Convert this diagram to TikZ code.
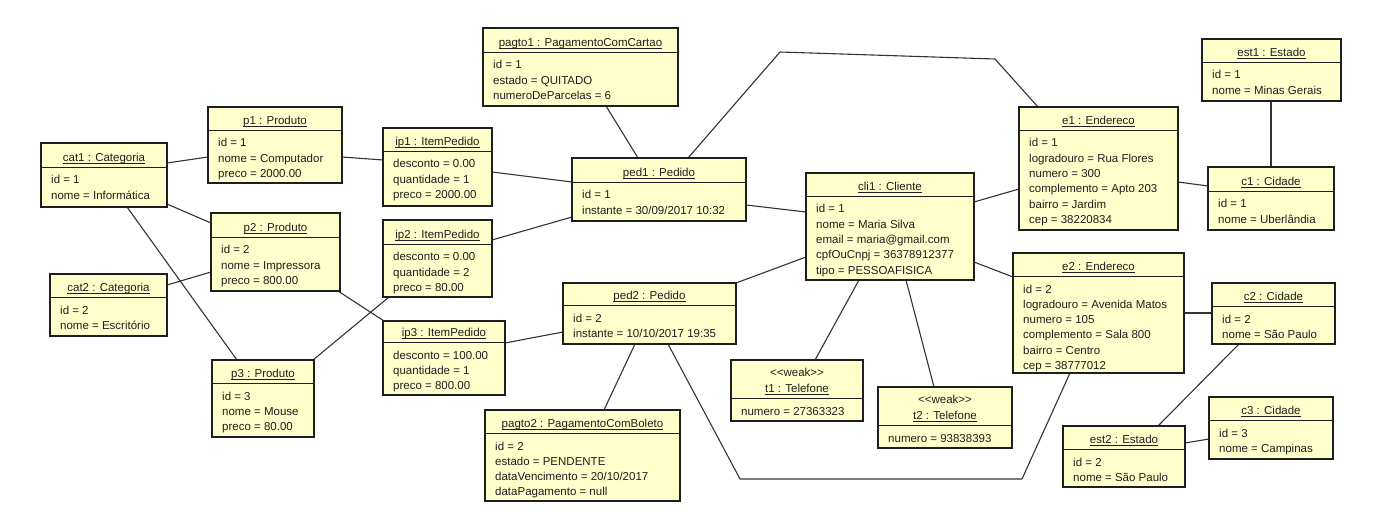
\documentclass[tikz,border=0pt]{standalone}
\usepackage{fontspec}
\setmainfont{Liberation Sans}
\usetikzlibrary{calc}
\pgfdeclarelayer{bg}
\pgfsetlayers{bg,main}
\definecolor{objfill}{HTML}{FFFFCC}
\definecolor{ink}{HTML}{1E1E1E}
\definecolor{wirecol}{HTML}{333333}
\newcommand{\uln}[1]{\setbox0\hbox{#1}\rlap{\rule[-2.3pt]{\wd0}{0.8pt}}\box0}
\tikzset{
  obj/.style={draw=ink, line width=2pt, fill=objfill, inner sep=0pt, outer sep=0pt, anchor=north west},
  sepline/.style={draw=ink, line width=0.9pt},
  hdr/.style={anchor=base, inner sep=0pt, text=ink, font=\fontsize{11.5}{15.3}\selectfont},
  body/.style={anchor=base west, inner sep=0pt, text=ink, font=\fontsize{11.5}{15.3}\selectfont},
  wire/.style={draw=wirecol, line width=1.1pt, line join=round},
}
\newcommand{\umlobj}[8]{%
  \node[obj, minimum width=#4pt, minimum height=#5pt] (#1) at (#2,#3) {};
  \draw[sepline] ($(#1.north west)+(0,#6)$) -- ($(#1.north east)+(0,#6)$);
  \node[hdr] (#1-h) at ($(#1.north west)+(#4/2,#6-5.8)$) {\begin{tabular}[b]{@{}c@{}}#7\end{tabular}};
  \node[body] (#1-b) at ($(#1.north west)+(10,#6+17)$) {\begin{tabular}[t]{@{}l@{}}#8\end{tabular}};}
\newcommand{\weakst}{{<}{<}weak{>}{>}}
\begin{document}
\begin{tikzpicture}[x=1pt,y=-1pt]
\useasboundingbox (0,0) rectangle (1375,521);

\umlobj{cat1}{41}{143}{126}{64}{24}{\uln{cat1 : Categoria}}{id = 1\\nome = Informática}
\umlobj{p1}{208}{107}{134}{76}{23}{\uln{p1 : Produto}}{id = 1\\nome = Computador\\preco = 2000.00}
\umlobj{p2}{211}{213}{129}{78}{24}{\uln{p2 : Produto}}{id = 2\\nome = Impressora\\preco = 800.00}
\umlobj{cat2}{50}{274}{117}{62}{23}{\uln{cat2 : Categoria}}{id = 2\\nome = Escritório}
\umlobj{p3}{212}{360}{102}{77}{23}{\uln{p3 : Produto}}{id = 3\\nome = Mouse\\preco = 80.00}
\umlobj{pagto1}{483}{28}{195}{78}{24}{\uln{pagto1 : PagamentoComCartao}}{id = 1\\estado = QUITADO\\numeroDeParcelas = 6}
\umlobj{ip1}{383}{128}{109}{78}{23}{\uln{ip1 : ItemPedido}}{desconto = 0.00\\quantidade = 1\\preco = 2000.00}
\umlobj{ped1}{572}{158}{174}{63}{24}{\uln{ped1 : Pedido}}{id = 1\\instante = 30/09/2017 10:32}
\umlobj{ip2}{383}{220}{109}{77}{24}{\uln{ip2 : ItemPedido}}{desconto = 0.00\\quantidade = 2\\preco = 80.00}
\umlobj{ip3}{383}{321}{122}{74}{21}{\uln{ip3 : ItemPedido}}{desconto = 100.00\\quantidade = 1\\preco = 800.00}
\umlobj{ped2}{563}{283}{173}{61}{22}{\uln{ped2 : Pedido}}{id = 2\\instante = 10/10/2017 19:35}
\umlobj{pagto2}{485}{410}{195}{91}{23}{\uln{pagto2 : PagamentoComBoleto}}{id = 2\\estado = PENDENTE\\dataVencimento = 20/10/2017\\dataPagamento = null}
\umlobj{cli1}{806}{173}{168}{107}{23}{\uln{cli1 : Cliente}}{id = 1\\nome = Maria Silva\\email = maria@gmail.com\\cpfOuCnpj = 36378912377\\tipo = PESSOAFISICA}
\umlobj{t1}{731}{360}{132}{61}{38}{\weakst\\\uln{t1 : Telefone}}{numero = 27363323}
\umlobj{t2}{878}{387}{134}{61}{38}{\weakst\\\uln{t2 : Telefone}}{numero = 93838393}
\umlobj{e1}{1019}{107}{159}{123}{23}{\uln{e1 : Endereco}}{id = 1\\logradouro = Rua Flores\\numero = 300\\complemento = Apto 203\\bairro = Jardim\\cep = 38220834}
\umlobj{est1}{1202}{39}{139}{62}{23}{\uln{est1 : Estado}}{id = 1\\nome = Minas Gerais}
\umlobj{c1}{1208}{167}{126}{63}{24}{\uln{c1 : Cidade}}{id = 1\\nome = Uberlândia}
\umlobj{e2}{1013}{253}{171}{120}{23}{\uln{e2 : Endereco}}{id = 2\\logradouro = Avenida Matos\\numero = 105\\complemento = Sala 800\\bairro = Centro\\cep = 38777012}
\umlobj{c2}{1212}{283}{123}{61}{23}{\uln{c2 : Cidade}}{id = 2\\nome = São Paulo}
\umlobj{c3}{1209}{397}{124}{62}{23}{\uln{c3 : Cidade}}{id = 3\\nome = Campinas}
\umlobj{est2}{1063}{426}{122}{61}{23}{\uln{est2 : Estado}}{id = 2\\nome = São Paulo}

\coordinate (k1) at (780,52);
\coordinate (k2) at (995,59);
\coordinate (k3) at (740,479);
\coordinate (k4) at (1022,479);

\begin{pgfonlayer}{bg}
\fill[white] (0,0) rectangle (1375,521);
\draw[wire] ($(cat1.north west)+(126,20)$) -- ($(p1.north west)+(0,50)$);
\draw[wire] ($(cat1.north west)+(126,61)$) -- ($(p2.north west)+(0,10)$);
\draw[wire] ($(cat1.north west)+(86,64)$) -- ($(p3.north west)+(25,0)$);
\draw[wire] ($(cat2.north west)+(117,11)$) -- ($(p2.north west)+(0,59)$);
\draw[wire] ($(p1.north west)+(134,50)$) -- ($(ip1.north west)+(0,32)$);
\draw[wire] ($(p2.north west)+(127,78)$) -- ($(ip3.north west)+(1,0)$);
\draw[wire] ($(p3.north west)+(101,0)$) -- ($(ip2.north west)+(6,77)$);
\draw[wire] ($(ip1.north west)+(109,44)$) -- ($(ped1.north west)+(0,24)$);
\draw[wire] ($(ip2.north west)+(109,20)$) -- ($(ped1.north west)+(0,59)$);
\draw[wire] ($(ip3.north west)+(122,22)$) -- ($(ped2.north west)+(0,49)$);
\draw[wire] ($(pagto1.north west)+(123,78)$) -- ($(ped1.north west)+(66,0)$);
\draw[wire] ($(ped1.north west)+(116,0)$) -- (k1) -- (k2) -- ($(e1.north west)+(19,0)$);
\draw[wire] ($(ped1.north west)+(174,47)$) -- ($(cli1.north west)+(0,39)$);
\draw[wire] ($(ped2.north west)+(173,0)$) -- ($(cli1.north west)+(0,84)$);
\draw[wire] ($(ped2.north west)+(72,61)$) -- ($(pagto2.north west)+(119,0)$);
\draw[wire] ($(ped2.north west)+(105,61)$) -- (k3) -- (k4) -- ($(e2.north west)+(57,120)$);
\draw[wire] ($(cli1.north west)+(53,107)$) -- ($(t1.north west)+(84,0)$);
\draw[wire] ($(cli1.north west)+(100,107)$) -- ($(t2.north west)+(56,0)$);
\draw[wire] ($(cli1.north west)+(168,29)$) -- ($(e1.north west)+(0,82)$);
\draw[wire] ($(cli1.north west)+(168,89)$) -- ($(e2.north west)+(0,24)$);
\draw[wire] ($(e1.north west)+(159,75)$) -- ($(c1.north west)+(0,19)$);
\draw[wire] ($(est1.north west)+(69,62)$) -- ($(c1.north west)+(63,0)$);
\draw[wire] ($(e2.north west)+(171,60)$) -- ($(c2.north west)+(0,30)$);
\draw[wire] ($(c2.north west)+(27,61)$) -- ($(est2.north west)+(95,0)$);
\draw[wire] ($(est2.north west)+(122,17)$) -- ($(c3.north west)+(0,42)$);
\end{pgfonlayer}
\end{tikzpicture}
\end{document}
